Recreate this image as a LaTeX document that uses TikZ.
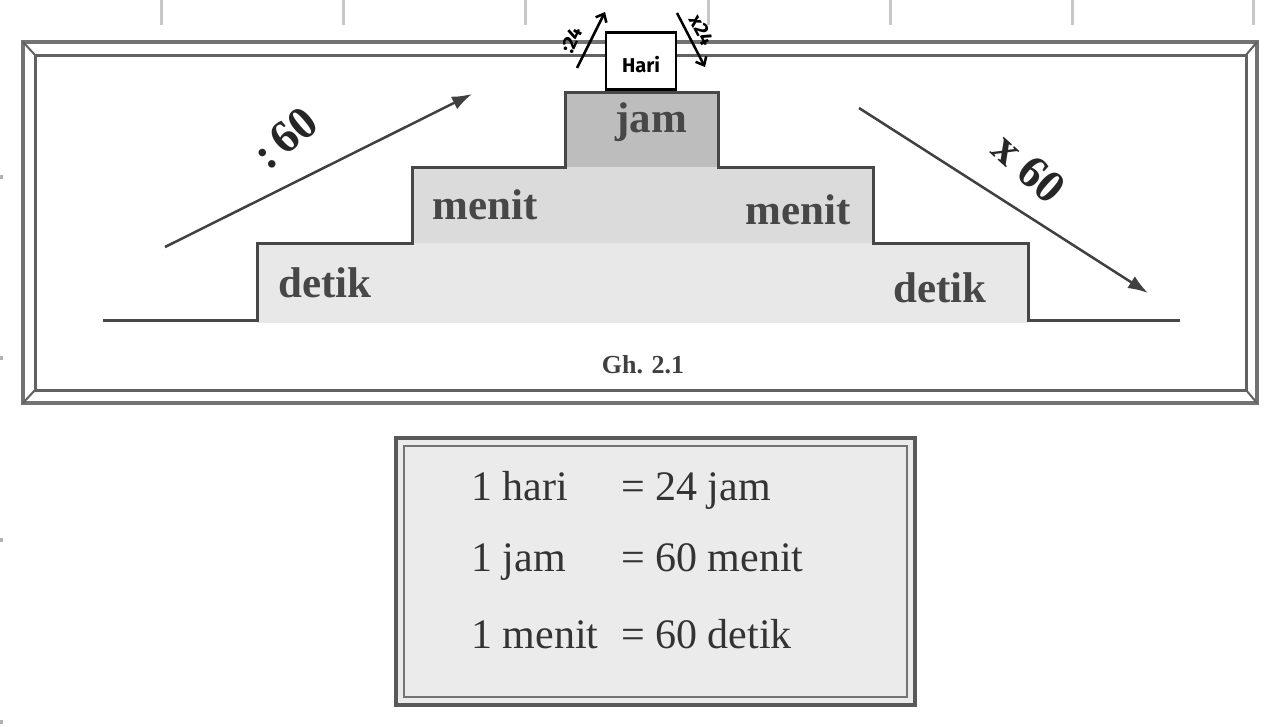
\documentclass[tikz,border=0pt]{standalone}
\usepackage{fontspec}
\setmainfont{Liberation Serif}
\newfontfamily\handfont{Fira Sans}
\usetikzlibrary{arrows.meta}
\begin{document}
\begin{tikzpicture}[x=1pt,y=-1pt,
  tick/.style={draw=black!22,line width=3pt},
  frameout/.style={draw=black!55,line width=4pt},
  framein/.style={draw=black!62,line width=3pt},
  stairline/.style={draw=black!72,line width=3pt},
  stairlbl/.style={text=black!72,font=\fontsize{43}{48}\selectfont\bfseries,inner sep=0pt},
  oplbl/.style={text=black!85,font=\fontsize{46}{50}\selectfont\bfseries,inner sep=0pt},
  bigarrow/.style={draw=black!75,line width=2.5pt,-{Latex[length=20pt,width=14pt]}},
  handarrow/.style={draw=black,line width=2.5pt,-{Straight Barb[length=7pt,width=12pt]}},
  handlbl/.style={font=\handfont\bfseries\fontsize{20}{22}\selectfont,inner sep=0pt},
  eqlbl/.style={text=black!80,font=\fontsize{42}{46}\selectfont,inner sep=0pt,anchor=base west}]
\useasboundingbox (0,0) rectangle (1277,726);
% spreadsheet ticks
\foreach \x/\n in {161/a,343/b,525/c,708/d,890/e,1072/f,1253/g}
  \draw[tick] (\x,0) coordinate (t\n) -- (\x,25);
\foreach \y in {177,358,540,722}
  \fill[black!30] (0,\y-2) rectangle (3,\y+2);
% outer frame
\draw[frameout] (23,42) rectangle (1257,403);
\draw[framein] (35,55) rectangle (1246,390);
\draw[framein,line width=2pt] (23,42) -- (35,55) (1257,42) -- (1246,55) (23,403) -- (35,390) (1257,403) -- (1246,390);
% stairs
\fill[black!9] (257,243) rectangle (1028,323);
\fill[black!14] (412,167) rectangle (873,243);
\fill[black!26] (565,92) rectangle (718,167);
\draw[stairline] (103,320) -- (257,320) -- (257,243) -- (412,243) -- (412,167) -- (565,167) -- (565,92) -- (718,92) -- (718,167) -- (873,167) -- (873,243) -- (1028,243) -- (1028,320) -- (1180,320);
\node[stairlbl] (detikL) at (325,283) {detik};
\node[stairlbl] (menitL) at (485,205) {menit};
\node[stairlbl] (jam) at (651,122) {jam};
\node[stairlbl] (menitR) at (798,210) {menit};
\node[stairlbl] (detikR) at (940,288) {detik};
\node[text=black!75,font=\fontsize{26}{28}\selectfont\bfseries,inner sep=0pt] (cap) at (643,365) {Gh. 2.1};
% big arrows
\coordinate (la1) at (165,247);
\coordinate (la2) at (472,94);
\coordinate (ra1) at (859,108);
\coordinate (ra2) at (1148,293);
\draw[bigarrow] (la1) -- (la2);
\draw[bigarrow] (ra1) -- (ra2);
\node[oplbl,rotate=40] (div60) at (285,138) {:\,60};
\node[oplbl,rotate=-42] (mul60) at (1029,168) {x 60};
% Hari box
\node[draw=black,line width=2.5pt,fill=white,minimum width=70pt,minimum height=57pt,inner sep=0pt] (hari) at (641,61) {};
\node[handlbl] (harit) at (641,65) {Hari};
\coordinate (h1) at (577,68);
\coordinate (h2) at (605,12);
\coordinate (h3) at (677,13);
\coordinate (h4) at (705,67);
\draw[handarrow] (h1) -- (h2);
\draw[handarrow] (h3) -- (h4);
\node[handlbl,rotate=65] (div24) at (572,40) {:24};
\node[handlbl,rotate=-62] (mul24) at (702,30) {x24};
% lower box
\fill[black!8] (396,438) rectangle (915,705);
\draw[draw=black!65,line width=4.5pt] (396,438) rectangle (915,705);
\draw[draw=black!55,line width=2.5pt] (404,446) rectangle (907,697);
\node[eqlbl] (r1a) at (471,500) {1 hari};
\node[eqlbl] (r1b) at (621,500) {= 24 jam};
\node[eqlbl] (r2a) at (471,571) {1 jam};
\node[eqlbl] (r2b) at (621,571) {= 60 menit};
\node[eqlbl] (r3a) at (471,648) {1 menit};
\node[eqlbl] (r3b) at (621,648) {= 60 detik};
\end{tikzpicture}
\end{document}
